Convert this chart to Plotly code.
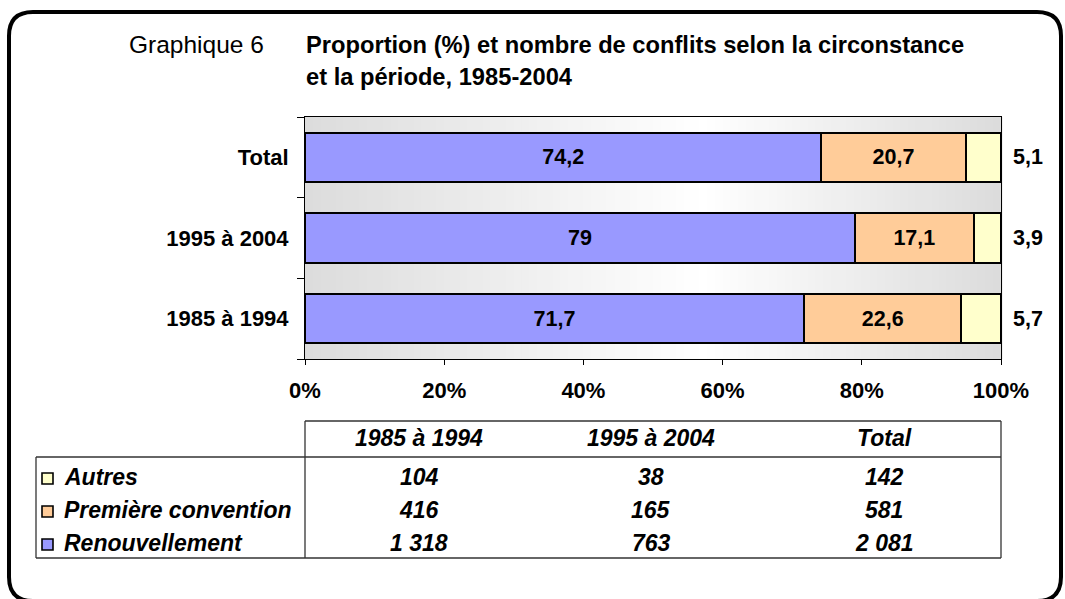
import plotly.graph_objects as go

# ---------------- data ----------------
categories = ["1985 à 1994", "1995 à 2004", "Total"]
renouvellement_pct = [71.7, 79.0, 74.2]
premiere_pct = [22.6, 17.1, 20.7]
autres_pct = [5.7, 3.9, 5.1]

series_names = ["Renouvellement", "Première convention", "Autres"]
series_colors = ["#9999FF", "#FFCC99", "#FFFFCC"]

x_tickvals = [0, 20, 40, 60, 80, 100]
x_ticktext = ["0%", "20%", "40%", "60%", "80%", "100%"]

table_columns = ["1985 à 1994", "1995 à 2004", "Total"]
autres_n = [104, 38, 142]
premiere_n = [416, 165, 581]
renouvellement_n = [1318, 763, 2081]

title_left = "Graphique 6"
title_line1 = "Proportion (%) et nombre de conflits selon la circonstance"
title_line2 = "et la période, 1985-2004"

# ---------------- layout geometry ----------------
W, H = 1065, 599
ML, MR, MT, MB = 305, 64, 117, 240
PW = W - ML - MR
PH = H - MT - MB
FONT = "Arial, 'Liberation Sans', sans-serif"


def X(px):
    return (px - ML) / PW


def Y(py):
    return (H - MB - py) / PH


def fmt_pct(v):
    return f"{v:g}".replace(".", ",")


def fmt_n(v):
    return f"{v:,}".replace(",", " ")


fig = go.Figure()

series_vals = [renouvellement_pct, premiere_pct, autres_pct]
for name, vals, col in zip(series_names, series_vals, series_colors):
    show_inside = name != "Autres"
    fig.add_trace(go.Bar(
        y=categories, x=vals, orientation="h", name=name,
        marker=dict(color=col, line=dict(color="black", width=2)),
        text=[fmt_pct(v) for v in vals] if show_inside else None,
        textposition="inside" if show_inside else "none",
        insidetextanchor="middle",
        textfont=dict(family=FONT, size=21.5, color="black", weight="bold"),
        showlegend=False, hoverinfo="skip",
    ))

shapes = []
# gradient background in plot area
n_strips = 90
center = 0.57
for i in range(n_strips):
    t0 = i / n_strips
    t1 = (i + 1) / n_strips
    tm = (t0 + t1) / 2
    d = abs(tm - center) / (center if tm < center else (1 - center))
    v = int(round(255 - 35 * d))
    shapes.append(dict(type="rect", xref="paper", yref="paper",
                       x0=t0, x1=t1 + 0.002, y0=0, y1=1,
                       fillcolor=f"rgb({v},{v},{v})", line=dict(width=0),
                       layer="below"))

# rounded outer border
left, right, top, bottom, r = 9, 1061, 12, 601, 24
pts = [
    ("M", [(left + r, top)]),
    ("L", [(right - r, top)]),
    ("Q", [(right, top), (right, top + r)]),
    ("L", [(right, bottom - r)]),
    ("Q", [(right, bottom), (right - r, bottom)]),
    ("L", [(left + r, bottom)]),
    ("Q", [(left, bottom), (left, bottom - r)]),
    ("L", [(left, top + r)]),
    ("Q", [(left, top), (left + r, top)]),
]
path = ""
for cmd, ps in pts:
    path += cmd + " " + " ".join(f"{X(a):.5f},{Y(b):.5f}" for a, b in ps) + " "
path += "Z"
shapes.append(dict(type="path", xref="paper", yref="paper", path=path,
                   line=dict(color="black", width=4), fillcolor="rgba(0,0,0,0)"))

# table lines
tcol = "#333333"
tl, tr = 305, 1001
t_top, t_head, t_bot, t_outer = 421, 457, 558, 36
for (x0, y0, x1, y1) in [
    (tl, t_top, tr, t_top),
    (t_outer, t_head, tr, t_head),
    (t_outer, t_bot, tr, t_bot),
    (t_outer, t_head, t_outer, t_bot),
    (tl, t_top, tl, t_bot),
    (tr, t_top, tr, t_bot),
]:
    shapes.append(dict(type="line", xref="paper", yref="paper",
                       x0=X(x0), y0=Y(y0), x1=X(x1), y1=Y(y1),
                       line=dict(color=tcol, width=1.3)))

annotations = []
# titles
annotations.append(dict(text=title_left, xref="paper", yref="paper",
                        x=X(127), y=Y(44), xanchor="left", yanchor="middle",
                        showarrow=False, font=dict(family=FONT, size=24.5, color="black")))
for txt, yy in [(title_line1, 45), (title_line2, 77)]:
    annotations.append(dict(text=f"<b>{txt}</b>", xref="paper", yref="paper",
                            x=X(304), y=Y(yy), xanchor="left", yanchor="middle",
                            showarrow=False, font=dict(family=FONT, size=23.7, color="black")))

# outside labels for Autres
for cat, v in zip(categories, autres_pct):
    annotations.append(dict(text=f"<b>{fmt_pct(v)}</b>", x=100, y=cat, xref="x", yref="y",
                            xanchor="left", yanchor="middle", xshift=10, showarrow=False,
                            font=dict(family=FONT, size=21.5, color="black")))

# table header
col_centers = [419, 651, 884]
for cx, name in zip(col_centers, table_columns):
    annotations.append(dict(text=f"<b><i>{name}</i></b>", xref="paper", yref="paper",
                            x=X(cx), y=Y(438), xanchor="center", yanchor="middle",
                            showarrow=False, font=dict(family=FONT, size=23, color="black")))

# table rows (top to bottom: Autres, Première convention, Renouvellement)
rows = [("Autres", autres_n, series_colors[2]),
        ("Première convention", premiere_n, series_colors[1]),
        ("Renouvellement", renouvellement_n, series_colors[0])]
row_y = [477, 510, 543]
for (label, vals, col), ry in zip(rows, row_y):
    shapes.append(dict(type="rect", xref="paper", yref="paper",
                       x0=X(42), x1=X(53), y0=Y(ry - 4), y1=Y(ry + 7),
                       fillcolor=col, line=dict(color="black", width=1.6)))
    annotations.append(dict(text=f"<b><i>{label}</i></b>", xref="paper", yref="paper",
                            x=X(62), y=Y(ry), xanchor="left", yanchor="middle",
                            showarrow=False, font=dict(family=FONT, size=23, color="black")))
    for cx, v in zip(col_centers, vals):
        annotations.append(dict(text=f"<b><i>{fmt_n(v)}</i></b>", xref="paper", yref="paper",
                                x=X(cx), y=Y(ry), xanchor="center", yanchor="middle",
                                showarrow=False, font=dict(family=FONT, size=23, color="black")))

fig.update_layout(
    width=W, height=H,
    margin=dict(l=ML, r=MR, t=MT, b=MB, autoexpand=False),
    barmode="stack", bargap=0.39,
    paper_bgcolor="white", plot_bgcolor="white",
    font=dict(family=FONT, color="black"),
    shapes=shapes, annotations=annotations,
    showlegend=False,
)
fig.update_xaxes(
    range=[0, 100], tickvals=x_tickvals, ticktext=x_ticktext,
    showgrid=False, zeroline=False,
    showline=True, linecolor="black", linewidth=1, mirror=True,
    ticks="outside", ticklen=5, tickcolor="black",
    tickfont=dict(family=FONT, size=22, color="black", weight="bold"),
    ticklabelstandoff=7, fixedrange=True,
)
fig.update_yaxes(
    categoryorder="array", categoryarray=categories,
    showgrid=False, zeroline=False,
    showline=True, linecolor="black", linewidth=1, mirror=True,
    ticks="outside", ticklen=7, tickcolor="black", tickson="boundaries",
    tickfont=dict(family=FONT, size=22, color="black", weight="bold"),
    ticklabelstandoff=11, fixedrange=True,
)

fig.write_html("out.html", config={"displayModeBar": False},
               post_script="document.body.style.margin='0px';document.body.style.overflow='hidden';")
